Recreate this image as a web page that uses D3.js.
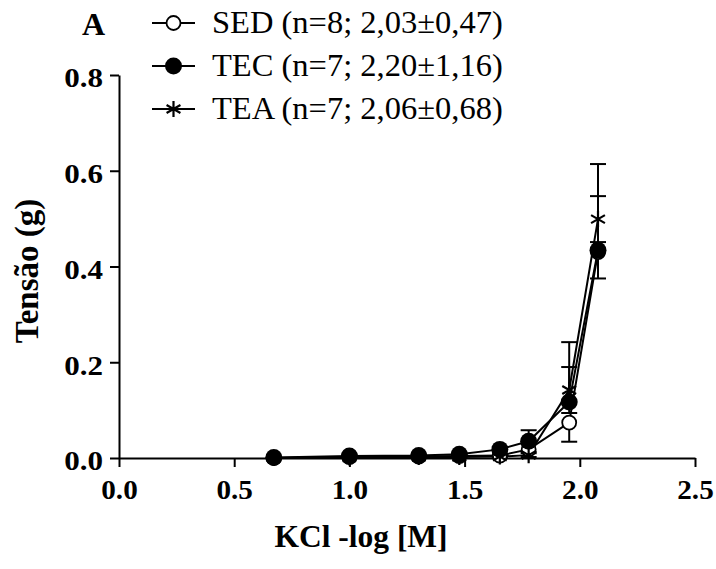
<!DOCTYPE html>
<html><head><meta charset="utf-8">
<script src="https://cdn.jsdelivr.net/npm/d3@7"></script>
<style>body{margin:0;background:#fff}svg{display:block}
.ser{font-family:"Times New Roman","Liberation Serif",Times,Tinos,"DejaVu Serif",serif}</style>
</head><body>
<svg id="c" width="716" height="569" class="ser"></svg>
<script>
const xVals = [0.672, 1.0, 1.301, 1.477, 1.653, 1.778, 1.954, 2.079];
const sedY   = [0.000, 0.002, 0.003, 0.004, 0.005, 0.018, 0.074, 0.430];
const sedErr = [0.001, 0.001, 0.001, 0.001, 0.002, 0.005, 0.040, 0.055];
const tecY   = [0.001, 0.004, 0.005, 0.008, 0.018, 0.035, 0.117, 0.434];
const tecErr = [0.001, 0.002, 0.002, 0.003, 0.005, 0.023, 0.125, 0.180];
const teaY   = [0.000, 0.001, 0.002, 0.002, 0.003, 0.006, 0.142, 0.499];
const teaErr = [0.000, 0.001, 0.001, 0.001, 0.002, 0.004, 0.048, 0.048];
const xTicks = [0.0, 0.5, 1.0, 1.5, 2.0, 2.5];
const yTicks = [0.0, 0.2, 0.4, 0.6, 0.8];
const legendLabels = ["SED (n=8; 2,03\u00b10,47)", "TEC (n=7; 2,20\u00b11,16)", "TEA (n=7; 2,06\u00b10,68)"];

const svg = d3.select("#c");
const x = d3.scaleLinear().domain([0, 2.5]).range([119, 695]);
const y = d3.scaleLinear().domain([0, 0.8]).range([458, 75]);

// axes
const xa = svg.append("g").attr("transform", "translate(0,458)")
  .call(d3.axisBottom(x).tickValues(xTicks).tickFormat(d3.format(".1f")).tickSizeInner(9).tickSizeOuter(0).tickPadding(13));
const ya = svg.append("g").attr("transform", "translate(119,0)")
  .call(d3.axisLeft(y).tickValues(yTicks).tickFormat(d3.format(".1f")).tickSizeInner(9).tickSizeOuter(0).tickPadding(7));
[xa, ya].forEach(a => {
  a.attr("font-family", null).attr("font-size", null);
  a.selectAll("path,line").attr("stroke", "#000").attr("stroke-width", 2);
  a.selectAll("text").attr("font-weight", "bold").attr("font-size", 27).attr("fill", "#000");
});
ya.selectAll("text").attr("dy", "0.44em");
// slight horizontal stretch of tick labels as in the reference
ya.selectAll(".tick text").attr("x", 0).attr("transform", "translate(-16,0) scale(1.15,1)");
xa.selectAll(".tick text").attr("transform", "scale(1.08,1)");

svg.append("text").attr("x", 361).attr("y", 547).attr("text-anchor", "middle")
  .attr("font-weight", "bold").attr("font-size", 31.5).text("KCl -log [M]");
svg.append("text").attr("transform", "translate(38,271) rotate(-90)").attr("text-anchor", "middle")
  .attr("font-weight", "bold").attr("font-size", 33).text("Tens\u00e3o (g)");

// series
const series = [
  {name: "SED", ys: sedY, err: sedErr, dir: "below", sym: "open"},
  {name: "TEC", ys: tecY, err: tecErr, dir: "above", sym: "filled"},
  {name: "TEA", ys: teaY, err: teaErr, dir: "both", sym: "star"}
];
const line = d3.line().x(d => x(d[0])).y(d => y(d[1]));
const starPath = r => {
  let p = "";
  [90, 30, 150].forEach(a => {
    const dx = r * Math.cos(a * Math.PI / 180), dy = r * Math.sin(a * Math.PI / 180);
    p += `M${-dx},${-dy}L${dx},${dy}`;
  });
  return p;
};
function drawMarker(g, sym, cx, cy) {
  if (sym === "open") g.append("circle").attr("cx", cx).attr("cy", cy).attr("r", 7).attr("fill", "#fff").attr("stroke", "#000").attr("stroke-width", 1.8);
  else if (sym === "filled") g.append("circle").attr("cx", cx).attr("cy", cy).attr("r", 8.5).attr("fill", "#000");
  else g.append("path").attr("transform", `translate(${cx},${cy})`).attr("d", starPath(8)).attr("stroke", "#000").attr("stroke-width", 2.2).attr("fill", "none");
}
const gErr = svg.append("g"), gLines = svg.append("g"), gMarks = svg.append("g");
series.forEach(s => {
  const pts = xVals.map((xv, i) => [xv, s.ys[i], s.err[i]]);
  gLines.append("path").datum(pts).attr("d", line).attr("fill", "none").attr("stroke", "#000").attr("stroke-width", 2);
  pts.forEach(p => {
    const lo = s.dir === "above" ? p[1] : p[1] - p[2];
    const hi = s.dir === "below" ? p[1] : p[1] + p[2];
    const cx = x(p[0]);
    gErr.append("line").attr("x1", cx).attr("x2", cx).attr("y1", y(lo)).attr("y2", y(hi)).attr("stroke", "#000").attr("stroke-width", 2);
    if (s.dir !== "above") gErr.append("line").attr("x1", cx - 8).attr("x2", cx + 8).attr("y1", y(lo)).attr("y2", y(lo)).attr("stroke", "#000").attr("stroke-width", 2);
    if (s.dir !== "below") gErr.append("line").attr("x1", cx - 8).attr("x2", cx + 8).attr("y1", y(hi)).attr("y2", y(hi)).attr("stroke", "#000").attr("stroke-width", 2);
  });
});
series.forEach(s => {
  xVals.forEach((xv, i) => drawMarker(gMarks, s.sym, x(xv), y(s.ys[i])));
});

// legend
svg.append("text").attr("x", 82).attr("y", 35).attr("font-weight", "bold").attr("font-size", 32).text("A");
const legY = [23, 66, 109];
series.forEach((s, i) => {
  const g = svg.append("g");
  g.append("line").attr("x1", 152).attr("x2", 195).attr("y1", legY[i]).attr("y2", legY[i]).attr("stroke", "#000").attr("stroke-width", 2);
  drawMarker(g, s.sym, 173.5, legY[i]);
  g.append("text").attr("x", 212).attr("y", legY[i] + 10).attr("font-size", 32.5).text(legendLabels[i]);
});
</script>
</body></html>
